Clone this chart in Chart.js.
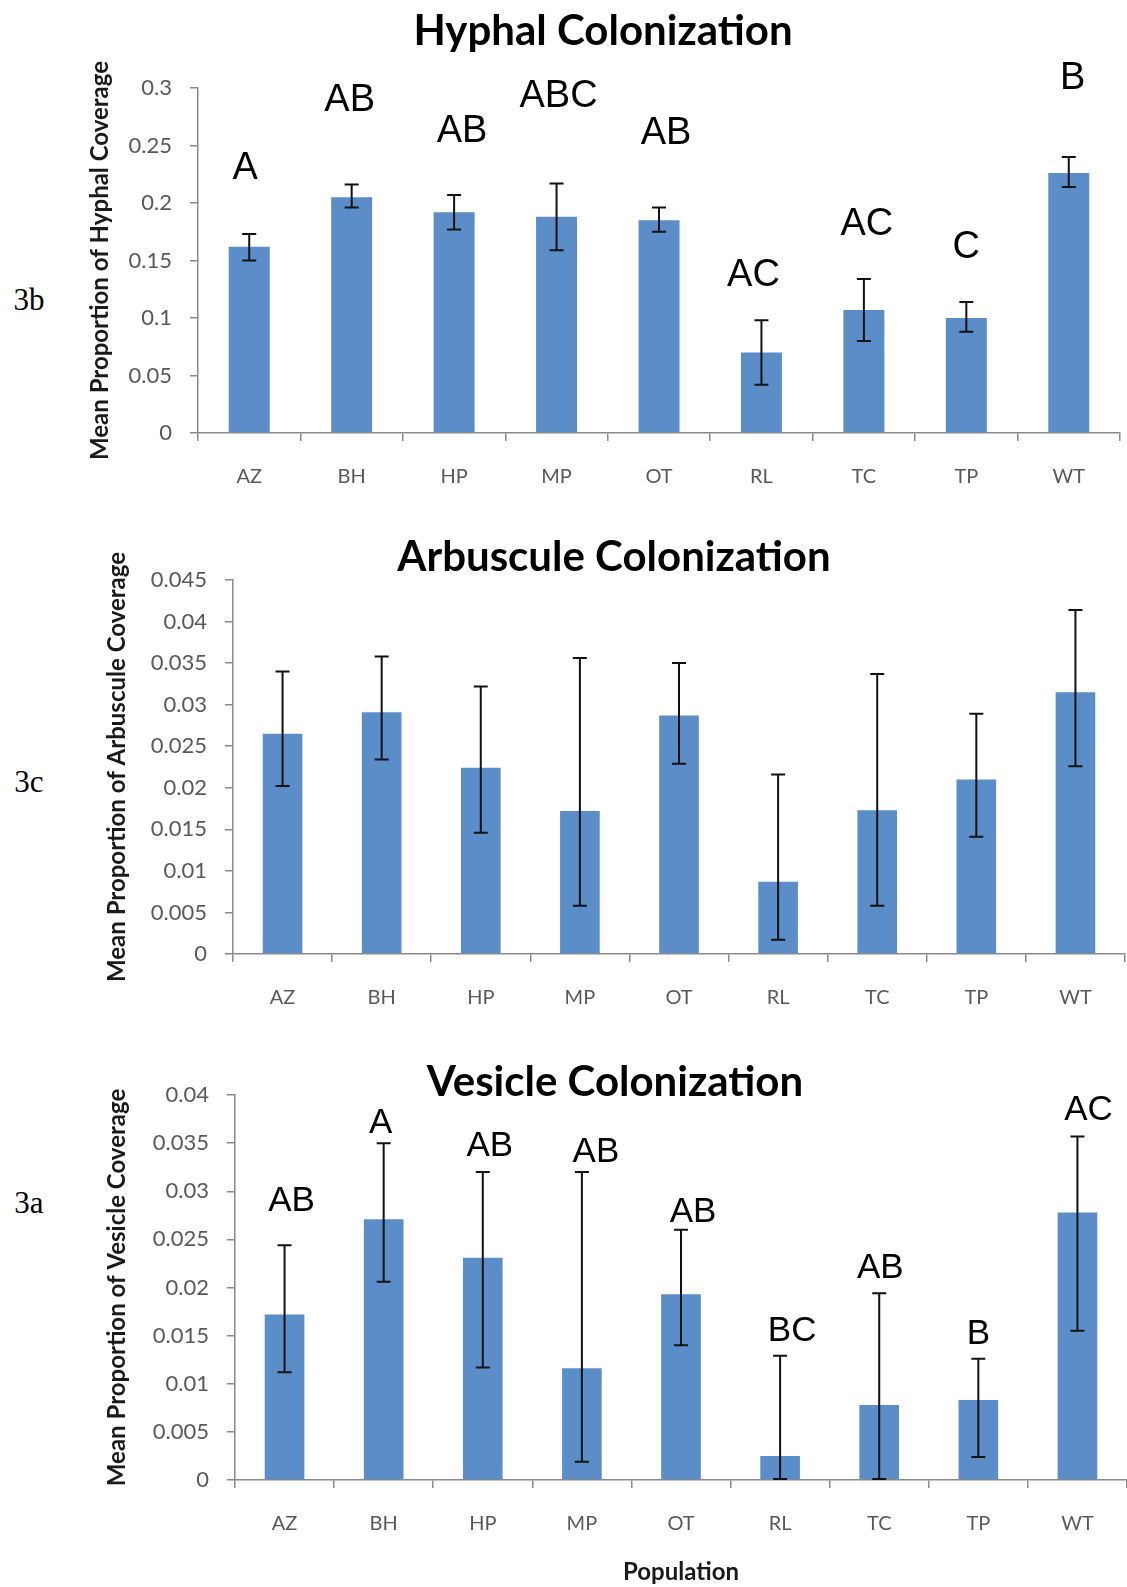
<!DOCTYPE html>
<html>
<head>
<meta charset="utf-8">
<script src="https://cdn.jsdelivr.net/npm/chart.js@4.4.1/dist/chart.umd.min.js"></script>
<style>
  body { margin: 0; background: #fff; width: 1127px; height: 1587px; position: relative; overflow: hidden; }
  canvas { position: absolute; left: 0; }
  .tag { position: absolute; font-family: "Liberation Serif", serif; font-size: 31px; color: #000; transform: translate(-50%, -50%); }
</style>
</head>
<body>
<div class="tag" style="left:29px; top:300px;">3b</div>
<div class="tag" style="left:29px; top:782px;">3c</div>
<div class="tag" style="left:29px; top:1203px;">3a</div>
<canvas id="hyphal" width="1127" height="510" style="top:0px"></canvas>
<canvas id="arbuscule" width="1127" height="520" style="top:510px"></canvas>
<canvas id="vesicle" width="1127" height="557" style="top:1030px"></canvas>
<script>
const populations = ['AZ', 'BH', 'HP', 'MP', 'OT', 'RL', 'TC', 'TP', 'WT'];

// hyphal (3b)
const hyphalMean = [0.162, 0.205, 0.192, 0.188, 0.185, 0.070, 0.107, 0.100, 0.226];
const hyphalHigh = [0.173, 0.216, 0.207, 0.217, 0.196, 0.098, 0.134, 0.114, 0.240];
const hyphalLow  = [0.150, 0.196, 0.177, 0.159, 0.175, 0.042, 0.080, 0.088, 0.214];
const hyphalLetters = ['A', 'AB', 'AB', 'ABC', 'AB', 'AC', 'AC', 'C', 'B'];
const hyphalTicks = [0, 0.05, 0.1, 0.15, 0.2, 0.25, 0.3];

// arbuscule (3c)
const arbusculeMean = [0.0265, 0.0291, 0.0224, 0.0172, 0.0287, 0.0087, 0.0173, 0.0210, 0.0315];
const arbusculeHigh = [0.0340, 0.0358, 0.0322, 0.0356, 0.0350, 0.0216, 0.0337, 0.0289, 0.0414];
const arbusculeLow  = [0.0202, 0.0234, 0.0146, 0.0058, 0.0229, 0.0017, 0.0058, 0.0141, 0.0226];
const arbusculeTicks = [0, 0.005, 0.01, 0.015, 0.02, 0.025, 0.03, 0.035, 0.04, 0.045];

// vesicle (3a)
const vesicleMean = [0.0172, 0.0271, 0.0231, 0.0116, 0.0193, 0.0025, 0.0078, 0.0083, 0.0278];
const vesicleHigh = [0.0244, 0.0350, 0.0320, 0.0320, 0.0260, 0.0129, 0.0194, 0.0126, 0.0357];
const vesicleLow  = [0.0112, 0.0206, 0.0117, 0.0019, 0.0140, 0.0001, 0.0001, 0.0024, 0.0155];
const vesicleLetters = ['AB', 'A', 'AB', 'AB', 'AB', 'BC', 'AB', 'B', 'AC'];
const vesicleTicks = [0, 0.005, 0.01, 0.015, 0.02, 0.025, 0.03, 0.035, 0.04];

// where the significance letters sit (value on y axis, px shift from bar centre)
const hyphalLetterAt = [0.230, 0.289, 0.262, 0.293, 0.260, 0.137, 0.181, 0.161, 0.308];
const hyphalLetterShift = [-4, -2, 8, 2, 7, -8, 3, 0, 4];
const vesicleLetterAt = [0.0289, 0.0371, 0.0347, 0.0340, 0.0278, 0.0154, 0.0220, 0.0151, 0.0384];
const vesicleLetterShift = [7, -3, 7, 14, 12, 12, 1, 0, 11];

const barColor = '#5B8EC8';
const axisColor = '#8a8a8a';

function errorBars(high, low) {
    return {
        id: 'errorBars',
        afterDatasetsDraw(chart) {
            const ctx = chart.ctx;
            const y = chart.scales.y;
            ctx.save();
            ctx.strokeStyle = '#111';
            ctx.lineWidth = 2;
            chart.getDatasetMeta(0).data.forEach((bar, i) => {
                const top = y.getPixelForValue(high[i]);
                const bot = y.getPixelForValue(low[i]);
                ctx.beginPath();
                ctx.moveTo(bar.x, top); ctx.lineTo(bar.x, bot);
                ctx.moveTo(bar.x - 7, top); ctx.lineTo(bar.x + 7, top);
                ctx.moveTo(bar.x - 7, bot); ctx.lineTo(bar.x + 7, bot);
                ctx.stroke();
            });
            ctx.restore();
        }
    };
}

function letterLabels(letters, at, shift, size) {
    return {
        id: 'letters',
        afterDraw(chart) {
            if (!letters) return;
            const ctx = chart.ctx;
            const y = chart.scales.y;
            ctx.save();
            ctx.fillStyle = '#000';
            ctx.font = size + 'px "Liberation Sans", Arial, sans-serif';
            ctx.textAlign = 'center';
            ctx.textBaseline = 'middle';
            chart.getDatasetMeta(0).data.forEach((bar, i) => {
                ctx.fillText(letters[i], bar.x + shift[i], y.getPixelForValue(at[i]));
            });
            ctx.restore();
        }
    };
}

function makeChart(id, cfg) {
    const ctx = document.getElementById(id).getContext('2d');
    return new Chart(ctx, {
        type: 'bar',
        data: {
            labels: populations,
            datasets: [{
                data: cfg.mean,
                backgroundColor: barColor,
                borderWidth: 0,
                barPercentage: 0.4,
                categoryPercentage: 1
            }]
        },
        options: {
            responsive: false,
            animation: false,
            layout: {
                padding: { left: cfg.padLeft, right: cfg.padRight, top: 0, bottom: 0 }
            },
            plugins: {
                legend: { display: false },
                tooltip: { enabled: false },
                title: {
                    display: true,
                    text: cfg.title,
                    color: '#000',
                    font: { family: 'Lato', size: 42, weight: 'bold', lineHeight: 1.2 },
                    padding: cfg.titlePad
                }
            },
            scales: {
                x: {
                    afterFit: s => { s.height = cfg.xHeight; },
                    border: { color: axisColor, width: 1.5 },
                    grid: { display: true, offset: true, drawOnChartArea: false, tickLength: 8, color: axisColor, lineWidth: 1.5 },
                    ticks: {
                        color: '#595959',
                        font: { family: 'Lato', size: 20 },
                        padding: 24,
                        maxRotation: 0,
                        autoSkip: false
                    },
                    title: {
                        display: !!cfg.xTitle,
                        text: cfg.xTitle || '',
                        color: '#1a1a1a',
                        font: { family: 'Lato', size: 24, weight: 'bold' },
                        padding: { top: 0, bottom: 0 }
                    }
                },
                y: {
                    min: 0,
                    max: cfg.ticks[cfg.ticks.length - 1],
                    afterBuildTicks: s => { s.ticks = cfg.ticks.map(v => ({ value: v })); },
                    afterFit: s => { s.width = cfg.yWidth; },
                    border: { color: axisColor, width: 1.5 },
                    grid: { display: true, drawOnChartArea: false, tickLength: 8, color: axisColor, lineWidth: 1.5 },
                    ticks: {
                        color: '#595959',
                        font: { family: 'Lato', size: 22 },
                        padding: 18,
                        callback: v => String(v)
                    },
                    title: {
                        display: true,
                        text: cfg.yTitle,
                        color: '#1a1a1a',
                        font: { family: 'Lato', size: 24, weight: 'bold' },
                        padding: { top: 0, bottom: 0 }
                    }
                }
            }
        },
        plugins: [errorBars(cfg.high, cfg.low), letterLabels(cfg.letters, cfg.letterAt, cfg.letterShift, cfg.letterSize)]
    });
}

makeChart('hyphal', {
    title: 'Hyphal Colonization',
    yTitle: 'Mean Proportion of Hyphal Coverage',
    mean: hyphalMean, high: hyphalHigh, low: hyphalLow, ticks: hyphalTicks,
    letters: hyphalLetters, letterAt: hyphalLetterAt, letterShift: hyphalLetterShift, letterSize: 38,
    padLeft: 86, padRight: 7, yWidth: 112, xHeight: 77,
    titlePad: { top: 5.8, bottom: 31.8 }
});

makeChart('arbuscule', {
    title: 'Arbuscule Colonization',
    yTitle: 'Mean Proportion of Arbuscule Coverage',
    mean: arbusculeMean, high: arbusculeHigh, low: arbusculeLow, ticks: arbusculeTicks,
    letters: null,
    padLeft: 103, padRight: 2, yWidth: 130, xHeight: 76,
    titlePad: { top: 21.8, bottom: -2.2 }
});

makeChart('vesicle', {
    title: 'Vesicle Colonization',
    yTitle: 'Mean Proportion of Vesicle Coverage',
    xTitle: 'Population',
    mean: vesicleMean, high: vesicleHigh, low: vesicleLow, ticks: vesicleTicks,
    letters: vesicleLetters, letterAt: vesicleLetterAt, letterShift: vesicleLetterShift, letterSize: 35,
    padLeft: 103, padRight: 0, yWidth: 132, xHeight: 107,
    titlePad: { top: 26.8, bottom: -12.2 }
});
</script>
</body>
</html>
